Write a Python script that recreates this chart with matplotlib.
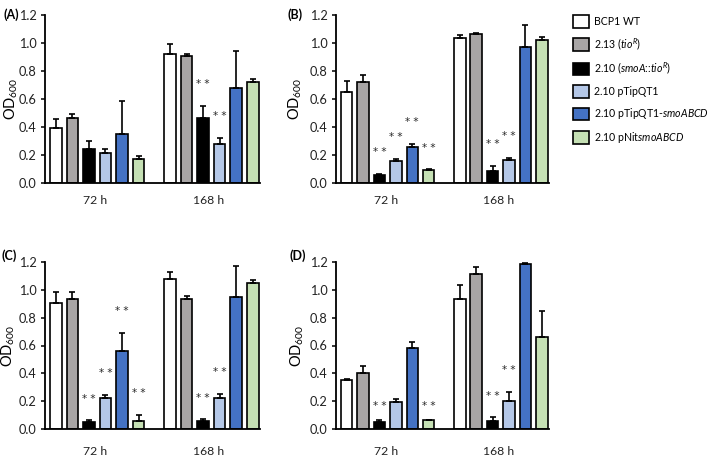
import numpy as np
import matplotlib
matplotlib.use("Agg")
import matplotlib.pyplot as plt
from matplotlib.patches import Patch

plt.rcParams['font.family'] = ['Lato', 'DejaVu Sans']
plt.rcParams['mathtext.fontset'] = 'custom'
plt.rcParams['mathtext.rm'] = 'Lato'
plt.rcParams['mathtext.it'] = 'Lato:italic'
plt.rcParams['mathtext.bf'] = 'Lato:bold'

# ---------------- data ----------------
strains = ["BCP1 WT",
           r"2.13 ($\it{tio}^{R}$)",
           r"2.10 ($\it{smoA}$::$\it{tio}^{R}$)",
           "2.10 pTipQT1",
           r"2.10 pTipQT1-$\it{smoABCD}$",
           r"2.10 pNit$\it{smoABCD}$"]
bar_colors = ["#FFFFFF", "#A8A5A5", "#000000", "#B4C7E7", "#4472C4", "#C5E0B4"]
times = ["72 h", "168 h"]
y_ticks = [0.0, 0.2, 0.4, 0.6, 0.8, 1.0, 1.2]

# Panel A
A_72 = [0.39, 0.465, 0.245, 0.215, 0.35, 0.175]
A_72_err = [0.07, 0.03, 0.055, 0.025, 0.235, 0.015]
A_72_sig = ["", "", "", "", "", ""]
A_168 = [0.925, 0.905, 0.465, 0.28, 0.68, 0.72]
A_168_err = [0.065, 0.02, 0.085, 0.045, 0.26, 0.02]
A_168_sig = ["", "", "**", "**", "", ""]

# Panel B
B_72 = [0.65, 0.72, 0.055, 0.155, 0.255, 0.093]
B_72_err = [0.08, 0.05, 0.01, 0.017, 0.025, 0.005]
B_72_sig = ["", "", "**", "**", "**", "**"]
B_168 = [1.035, 1.065, 0.086, 0.163, 0.97, 1.02]
B_168_err = [0.02, 0.007, 0.038, 0.018, 0.16, 0.025]
B_168_sig = ["", "", "**", "**", "", ""]

# Panel C
C_72 = [0.905, 0.937, 0.052, 0.221, 0.558, 0.057]
C_72_err = [0.077, 0.047, 0.01, 0.024, 0.133, 0.045]
C_72_sig = ["", "", "**", "**", "**", "**"]
C_168 = [1.077, 0.936, 0.059, 0.221, 0.95, 1.047]
C_168_err = [0.05, 0.02, 0.012, 0.033, 0.222, 0.021]
C_168_sig = ["", "", "**", "**", "", ""]

# Panel D
D_72 = [0.354, 0.404, 0.048, 0.197, 0.585, 0.064]
D_72_err = [0.005, 0.05, 0.019, 0.019, 0.042, 0.003]
D_72_sig = ["", "", "**", "", "", "**"]
D_168 = [0.932, 1.112, 0.055, 0.202, 1.189, 0.663]
D_168_err = [0.102, 0.05, 0.028, 0.067, 0.007, 0.188]
D_168_sig = ["", "", "**", "**", "", ""]

panels = [
    ("(A)", [A_72, A_168], [A_72_err, A_168_err], [A_72_sig, A_168_sig]),
    ("(B)", [B_72, B_168], [B_72_err, B_168_err], [B_72_sig, B_168_sig]),
    ("(C)", [C_72, C_168], [C_72_err, C_168_err], [C_72_sig, C_168_sig]),
    ("(D)", [D_72, D_168], [D_72_err, D_168_err], [D_72_sig, D_168_sig]),
]

# ---------------- layout ----------------
W, H = 709, 459
fig = plt.figure(figsize=(W / 100, H / 100), dpi=100)

# axes rectangles in pixels: left, right, top, bottom
rects = [(45, 260, 15, 183), (336, 549, 15, 183),
         (45, 260, 262, 429), (336, 549, 262, 429)]
# y-label centre x, panel label left x / centre y, x-label pad (points)
ylab_x = [11, 295, 8, 297]
plab_xy = [(3, 15), (288, 15), (2, 256), (289, 256)]
xlab_pad = [9, 9, 12, 12]

group_offset = 6.9
bar_w = 0.7
star_pad = {("(D)", 0): 0.10}

for i, ((label, means, errs, sigs), (l, r, t, b)) in enumerate(zip(panels, rects)):
    ax = fig.add_axes([l / W, 1 - b / H, (r - l) / W, (b - t) / H])
    for g in range(2):
        x = np.arange(6) + g * group_offset
        m = np.array(means[g])
        e = np.array(errs[g])
        ax.bar(x, m, width=bar_w, color=bar_colors, edgecolor="black",
               linewidth=1.2, zorder=2)
        ax.errorbar(x, m, yerr=[np.zeros_like(e), e], fmt="none",
                    ecolor="black", elinewidth=1.2, capsize=2.2,
                    capthick=1.2, zorder=3)
        pad = star_pad.get((label, g), 0.155)
        for xi, mi, ei, s in zip(x, m, e, sigs[g]):
            if s:
                ax.text(xi, mi + ei + pad, "* *", ha="center", va="center",
                        fontsize=7.5, color="#2a2a2a",
                        family="DejaVu Sans")
    ax.set_xlim(-0.65, 5 + group_offset + 0.44)
    ax.set_ylim(0, 1.2)
    ax.set_yticks(y_ticks)
    ax.set_yticklabels([f"{v:.1f}" for v in y_ticks], fontsize=9.2,
                       color="#222222")
    ax.set_xticks([2.5 - 0.1, 2.5 + group_offset - 0.15])
    ax.set_xticklabels(times, fontsize=8.8, color="#222222")
    ax.tick_params(axis="x", length=0, pad=xlab_pad[i])
    ax.tick_params(axis="y", length=3, width=1.1, direction="out", pad=3)
    for sp in ["top", "right"]:
        ax.spines[sp].set_visible(False)
    for sp in ["left", "bottom"]:
        ax.spines[sp].set_linewidth(1.3)
    ax.set_ylabel(r"OD$_{600}$", fontsize=10.5, va="center")
    ax.yaxis.set_label_coords((ylab_x[i] - l) / (r - l), 0.5)
    px, py = plab_xy[i]
    fig.text(px / W, 1 - py / H, label, fontsize=9, fontweight="bold",
             ha="left", va="center")

handles = [Patch(facecolor=c, edgecolor="black", linewidth=1.2)
           for c in bar_colors]
fig.legend(handles, strains, loc="upper left",
           bbox_to_anchor=(573 / W, 1 - 15 / H), frameon=False,
           fontsize=7.6, handlelength=1.5, handleheight=1.45,
           handletextpad=0.45, labelspacing=0.82, borderaxespad=0,
           borderpad=0)

fig.savefig("out.png", dpi=100)
